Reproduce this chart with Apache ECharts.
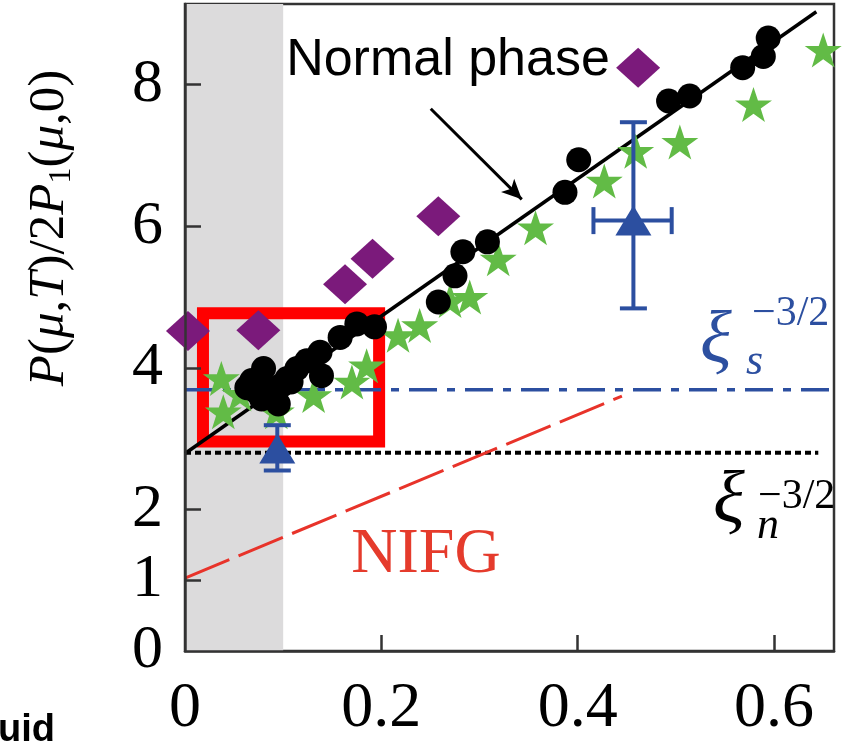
<!DOCTYPE html>
<html><head><meta charset="utf-8">
<script src="https://cdn.jsdelivr.net/npm/echarts@6/dist/echarts.min.js"></script>
<style>html,body{margin:0;padding:0;background:#fff}#c{width:844px;height:741px}</style>
</head><body><div id="c"></div>
<script>
const xTickLabels = [0, 0.2, 0.4, 0.6];
const yTickLabels = [0, 1, 2, 4, 6, 8];
const circles = [
  [0.063,3.72],[0.068,3.82],[0.073,3.66],[0.078,3.56],[0.080,3.99],[0.085,3.60],[0.090,3.70],
  [0.095,3.49],[0.098,3.75],[0.104,3.85],[0.108,3.80],[0.114,3.99],[0.124,4.10],[0.1375,4.22],
  [0.139,3.89],[0.158,4.43],[0.175,4.62],[0.193,4.58],
  [0.258,4.93],[0.275,5.30],[0.283,5.64],[0.308,5.78],[0.387,6.48],[0.401,6.94],
  [0.4925,7.77],[0.514,7.84],[0.568,8.24],[0.589,8.40],[0.594,8.66]
];
const stars = [
  [0.037,3.85],[0.039,3.38],[0.056,3.63],[0.093,3.38],[0.131,3.61],[0.170,3.80],[0.185,4.03],
  [0.217,4.46],[0.239,4.60],[0.270,4.95],[0.290,5.00],[0.319,5.54],[0.357,5.98],[0.427,6.64],
  [0.459,7.06],[0.504,7.19],[0.579,7.72],[0.650,8.49]
];
const diamonds = [[0.003,4.52],[0.0747,4.53],[0.163,5.18],[0.191,5.54],[0.258,6.14],[0.4615,8.24]];
const triangles = [[0.4567,6.08],[0.094,2.86]];
const triErrX = [[0.416,0.4957],[0.094,0.094]];
const triErrY = [[4.84,7.47],[2.55,3.19]];
const fitLine = [[0,2.79],[0.643,9.03]];
const xiNLine = [[0,2.8],[0.645,2.8]];
const xiSLine = [[0,3.69],[0.661,3.69]];
const nifgLine = [[0,1.03],[0.445,3.6]];
const shadedBand = [0, 0.1];
const highlightBox = [[0.0183,4.77],[0.1977,2.96]];
const arrowLine = [[0.2503,7.66],[0.343,6.38]];

const X_MAX = 0.661, Y_MAX = 9.14;
const axisCol = '#333';
const blue = '#2c4fa0';
const starPath = 'path://M50,0 L61.8,35.1 L98.9,35.1 L69.1,56.7 L80.3,91.9 L50,70.2 L19.7,91.9 L30.9,56.7 L1.1,35.1 L38.2,35.1 Z';

const errData = triangles.map((p,i)=>[p[0],p[1],triErrX[i][0],triErrX[i][1],triErrY[i][0],triErrY[i][1]]);

const chart = echarts.init(document.getElementById('c'), null, {renderer:'canvas'});
chart.setOption({
  animation: false,
  backgroundColor: '#fff',
  grid: {left:185, top:4, right:10, bottom:88, show:true, borderColor:axisCol, borderWidth:2.5, backgroundColor:'transparent'},
  xAxis: {
    type:'value', min:0, max:X_MAX, z:10,
    axisLine:{show:true, lineStyle:{color:axisCol, width:2.5}},
    axisTick:{show:true, inside:true, length:16, lineStyle:{color:axisCol, width:2.5}, customValues:[0.2,0.4,0.6]},
    axisLabel:{customValues:xTickLabels, margin:26, color:'#000', fontFamily:'Liberation Serif', fontSize:64,
      formatter:v=>v===0?'0':String(v)},
    splitLine:{show:false}
  },
  yAxis: {
    type:'value', min:0, max:Y_MAX, z:10,
    axisLine:{show:true, lineStyle:{color:axisCol, width:2.5}},
    axisTick:{show:true, inside:true, length:16, lineStyle:{color:axisCol, width:2.5}, customValues:[1,2,4,6,8]},
    axisLabel:{customValues:yTickLabels, margin:22, color:'#000', fontFamily:'Liberation Serif', fontSize:62},
    splitLine:{show:false}
  },
  series: [
    {type:'line', data:[], z:0, silent:true,
      markArea:{silent:true, itemStyle:{color:'#dcdbdc'}, data:[[{xAxis:shadedBand[0]},{xAxis:shadedBand[1]}]]}},
    {type:'line', data:xiNLine, symbol:'none', z:2, lineStyle:{color:'#000', width:4, type:[6,4]}},
    {type:'line', data:xiSLine, symbol:'none', z:2, lineStyle:{color:blue, width:3.5, type:[28,10,8,10]}},
    {type:'line', data:nifgLine, symbol:'none', z:2, lineStyle:{color:'#e8332a', width:3, type:[48,10]}},
    {type:'line', data:fitLine, symbol:'none', z:3, lineStyle:{color:'#000', width:3.5}},
    {type:'scatter', data:diamonds, symbol:'diamond', symbolSize:[44,40], z:4, itemStyle:{color:'#7b1a7b', opacity:1}},
    {type:'scatter', data:stars, symbol:starPath, symbolSize:[37,35], z:5, itemStyle:{color:'#62bb46', opacity:1}},
    {type:'scatter', data:circles, symbol:'circle', symbolSize:25, z:6, itemStyle:{color:'#000', opacity:1}},
    {type:'custom', z:7, data:errData, renderItem:(params, api)=>{
        const x=api.value(0), y=api.value(1), xl=api.value(2), xh=api.value(3), yl=api.value(4), yh=api.value(5);
        const pLo=api.coord([x,yl]), pHi=api.coord([x,yh]);
        const st={stroke:blue, lineWidth:4};
        const cap=13.5;
        const ch=[
          {type:'line', shape:{x1:pLo[0],y1:pLo[1],x2:pHi[0],y2:pHi[1]}, style:st},
          {type:'line', shape:{x1:pLo[0]-cap,y1:pLo[1],x2:pLo[0]+cap,y2:pLo[1]}, style:st},
          {type:'line', shape:{x1:pHi[0]-cap,y1:pHi[1],x2:pHi[0]+cap,y2:pHi[1]}, style:st}
        ];
        if (xh>xl) {
          const a=api.coord([xl,y]), b=api.coord([xh,y]);
          ch.push({type:'line', shape:{x1:a[0],y1:a[1],x2:b[0],y2:b[1]}, style:st});
          ch.push({type:'line', shape:{x1:a[0],y1:a[1]-cap,x2:a[0],y2:a[1]+cap}, style:st});
          ch.push({type:'line', shape:{x1:b[0],y1:b[1]-cap,x2:b[0],y2:b[1]+cap}, style:st});
        }
        return {type:'group', children:ch};
      }},
    {type:'scatter', data:triangles, symbol:'triangle', symbolSize:[36,30], z:8, itemStyle:{color:blue, opacity:1}},
    {type:'line', data:[], z:9, silent:true,
      markArea:{silent:true, itemStyle:{color:'rgba(0,0,0,0)', borderColor:'#ff0000', borderWidth:12},
        data:[[{coord:highlightBox[0]},{coord:highlightBox[1]}]]},
      markLine:{silent:true, symbol:['none','arrow'], symbolSize:[14,20], label:{show:false},
        lineStyle:{color:'#000', width:3, type:'solid'},
        data:[[{coord:arrowLine[0]},{coord:arrowLine[1]}]]}}
  ],
  graphic: [
    {type:'text', x:50, y:228, rotation:Math.PI/2, style:{
      text:'{i|P}{r|(}{i|μ}{r|,}{i|T}{r|)/2}{i|P}{s|1}{r|(}{i|μ}{r|,0)}',
      align:'center', verticalAlign:'middle',
      rich:{
        i:{fontFamily:'Liberation Serif', fontStyle:'italic', fontSize:51, fill:'#000', lineHeight:56},
        r:{fontFamily:'Liberation Serif', fontSize:51, fill:'#000', lineHeight:56},
        s:{fontFamily:'Liberation Serif', fontSize:32, fill:'#000', lineHeight:56, verticalAlign:'bottom', padding:[18,0,0,0]}
      }}},
    {type:'text', x:448, y:61, style:{text:'Normal phase', fontFamily:'Liberation Sans', fontSize:52, fill:'#000', align:'center', verticalAlign:'middle'}},
    {type:'text', x:426, y:555, style:{text:'NIFG', fontFamily:'Liberation Serif', fontSize:64, fill:'#e53b2c', align:'center', verticalAlign:'middle'}},
    {type:'text', x:700, y:343, style:{text:'ξ', fontFamily:'Liberation Serif', fontStyle:'italic', fontSize:74, fill:blue, align:'left', verticalAlign:'middle'}},
    {type:'text', x:752, y:314, style:{text:'−3/2', fontFamily:'Liberation Serif', fontSize:42, fill:blue, align:'left', verticalAlign:'middle'}},
    {type:'text', x:746, y:362, style:{text:'s', fontFamily:'Liberation Serif', fontStyle:'italic', fontSize:44, fill:blue, align:'left', verticalAlign:'middle'}},
    {type:'text', x:713, y:503, style:{text:'ξ', fontFamily:'Liberation Serif', fontStyle:'italic', fontSize:74, fill:'#000', align:'left', verticalAlign:'middle'}},
    {type:'text', x:758, y:497, style:{text:'−3/2', fontFamily:'Liberation Serif', fontSize:42, fill:'#000', align:'left', verticalAlign:'middle'}},
    {type:'text', x:757, y:526, style:{text:'n', fontFamily:'Liberation Serif', fontStyle:'italic', fontSize:44, fill:'#000', align:'left', verticalAlign:'middle'}},
    {type:'text', x:-2, y:731, style:{text:'uid', fontFamily:'Liberation Sans', fontWeight:'bold', fontSize:38, fill:'#000', align:'left', verticalAlign:'middle'}}
  ]
});
</script></body></html>
